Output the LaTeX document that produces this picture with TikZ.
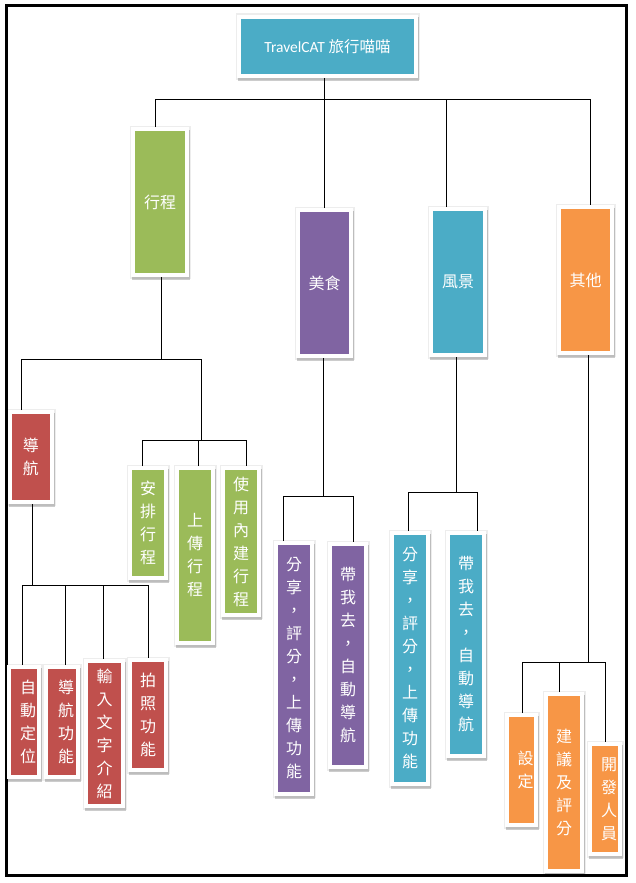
\documentclass[tikz,border=0pt]{standalone}
\usepackage{fontspec}
\setmainfont{Carlito}
\newfontfamily\cjk{Noto Sans CJK TC}
\usetikzlibrary{shadows}
\definecolor{cteal}{HTML}{4BACC6}
\definecolor{cgreen}{HTML}{9BBB59}
\definecolor{cpurple}{HTML}{8064A2}
\definecolor{cred}{HTML}{C0504D}
\definecolor{corange}{HTML}{F79646}
\tikzset{
  vtxt/.style={text=white, inner sep=0pt, align=center, font=\cjk\fontsize{16}{23}\selectfont},
  cbox/.style={fill=white, outer sep=0pt, vtxt,
    preaction={draw=black, line width=3pt, draw opacity=0.07},
    drop shadow={shadow xshift=1pt, shadow yshift=-2.5pt, opacity=0.2, fill=black},
    path picture={\fill[#1] ([shift={(4pt,4pt)}]path picture bounding box.south west) rectangle ([shift={(-4pt,-4pt)}]path picture bounding box.north east);}},
  conn/.style={line width=0.9pt, draw=black},
}
\newcommand\bx[7]{\node[cbox=#1, minimum width={#4-#2+8}, minimum height={#5-#3+8}] (#6) at ({(#2+#4)/2},{(#3+#5)/2}) {#7};}
\newcommand\bxs[7]{\node[cbox=#1, minimum width={#4-#2+8}, minimum height={#5-#3+8}, label={[vtxt, xshift=4pt]center:#7}] (#6) at ({(#2+#4)/2},{(#3+#5)/2}) {};}
\begin{document}
\begin{tikzpicture}[x=1pt, y=-1pt]
\useasboundingbox (0,0) rectangle (635,883);
\fill[white] (0,0) rectangle (635,883);
% frame
\draw[line width=3pt] (6,5.5) rectangle (626.5,875.5);
% root
\bx{cteal}{241}{19}{414}{74}{root}{\fontsize{15.5}{18}\selectfont\normalfont TravelCAT {\cjk 旅行喵喵}}
% level 1
\bx{cgreen}{135}{131}{185}{273}{xc}{行程}
\bx{cpurple}{300}{212}{349}{354}{ms}{美食}
\bx{cteal}{433}{211}{483}{353}{fj}{風景}
\bx{corange}{561}{209}{610}{351}{qt}{其他}
% under 行程
\bx{cred}{12}{414}{50}{500}{dh}{導\\航}
\bx{cgreen}{132}{470}{164}{576}{ap}{安\\排\\行\\程}
\bx{cgreen}{179}{470}{211}{641}{sc}{上\\傳\\行\\程}
\bx{cgreen}{225}{470}{257}{613}{sy}{使\\用\\內\\建\\行\\程}
% under 導航
\bxs{cred}{11}{669}{37}{775}{zd}{自\\動\\定\\位}
\bxs{cred}{48}{669}{76}{775}{dg}{導\\航\\功\\能}
\bx{cred}{88}{663}{121}{804}{sr}{輸\\入\\文\\字\\介\\紹}
\bx{cred}{132}{662}{164}{768}{pz}{拍\\照\\功\\能}
% under 美食
\bx{cpurple}{278}{545}{310}{792}{msa}{分\\享\\，\\評\\分\\，\\上\\傳\\功\\能}
\bx{cpurple}{332}{546}{364}{765}{msb}{帶\\我\\去\\，\\自\\動\\導\\航}
% under 風景
\bx{cteal}{394}{535}{426}{782}{fja}{分\\享\\，\\評\\分\\，\\上\\傳\\功\\能}
\bx{cteal}{450}{535}{482}{754}{fjb}{帶\\我\\去\\，\\自\\動\\導\\航}
% under 其他
\bxs{corange}{509}{717}{534}{823}{sd}{設\\定}
\bx{corange}{548}{696}{580}{869}{jy}{建\\議\\及\\評\\分}
\bxs{corange}{592}{746}{618}{852}{kf}{開\\發\\人\\員}
% junction coordinates
\coordinate (j1) at (201,359);
\coordinate (j2) at (201,440);
% connectors: root
\draw[conn] ([xshift=-3.5pt]root.south) -- ([xshift=-3.5pt]root.south |- 0,99.5);
\draw[conn] ([xshift=-4.4pt]xc.north) |- ([xshift=4.5pt]qt.north |- 0,99.5) -- ([xshift=4.5pt]qt.north);
\draw[conn] ([xshift=-0.5pt]ms.north) -- ([xshift=-0.5pt]ms.north |- 0,99.5);
\draw[conn] ([xshift=-11.5pt]fj.north) -- ([xshift=-11.5pt]fj.north |- 0,99.5);
% 行程
\draw[conn] ([xshift=1.7pt]xc.south) -- ([xshift=1.7pt]xc.south |- j1);
\draw[conn] ([xshift=-10pt]dh.north) |- (j1) -- (j2);
\draw[conn] ([xshift=-5.5pt]ap.north) |- ([xshift=5pt]sy.north |- j2) -- ([xshift=5pt]sy.north);
\draw[conn] ([xshift=3pt]sc.north) -- ([xshift=3pt]sc.north |- j2);
% 導航
\draw[conn] ([xshift=1pt]dh.south) -- ([xshift=1pt]dh.south |- 0,585);
\draw[conn] ([xshift=-2pt]zd.north) |- (pz.north |- 0,585) -- (pz.north);
\draw[conn] ([xshift=3pt]dg.north) -- ([xshift=3pt]dg.north |- 0,585);
\draw[conn] ([xshift=-1.5pt]sr.north) -- ([xshift=-1.5pt]sr.north |- 0,585);
% 美食
\draw[conn] ([xshift=-1.5pt]ms.south) -- ([xshift=-1.5pt]ms.south |- 0,496);
\draw[conn] ([xshift=-11pt]msa.north) |- ([xshift=5pt]msb.north |- 0,496) -- ([xshift=5pt]msb.north);
% 風景
\draw[conn] ([xshift=-2pt]fj.south) -- ([xshift=-2pt]fj.south |- 0,492);
\draw[conn] ([xshift=-2pt]fja.north) |- ([xshift=11pt]fjb.north |- 0,492) -- ([xshift=11pt]fjb.north);
% 其他
\draw[conn] ([xshift=2.5pt]qt.south) -- ([xshift=2.5pt]qt.south |- 0,662);
\draw[conn] ([xshift=0.5pt]sd.north) |- (kf.north |- 0,662) -- (kf.north);
\draw[conn] ([xshift=-5pt]jy.north) -- ([xshift=-5pt]jy.north |- 0,662);
\end{tikzpicture}
\end{document}
